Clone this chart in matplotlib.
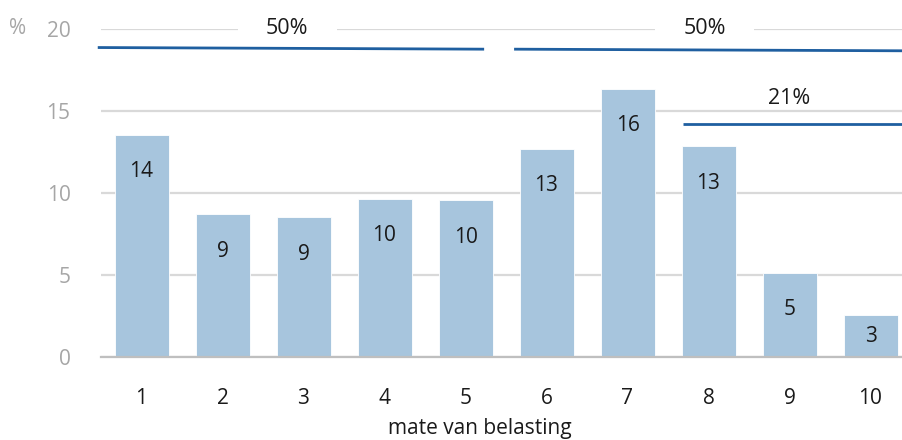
import matplotlib
matplotlib.use("Agg")
import matplotlib.pyplot as plt
from matplotlib.patches import Rectangle
import numpy as np

plt.rcParams['font.family'] = ['Open Sans', 'DejaVu Sans']

# Verdeling naar mate van belasting (%)
categories = ['1', '2', '3', '4', '5', '6', '7', '8', '9', '10']
values = [13.55, 8.7, 8.52, 9.65, 9.55, 12.7, 16.35, 12.85, 5.15, 2.55]

# Groeperingen boven de staven
group_labels = ['50%', '50%', '21%']
group_start = [-0.54, 4.6, 6.68]
group_end = [4.23, 9.45, 9.45]
group_line_y = [18.82, 18.72, 14.2]
group_text_y = [20.05, 20.0, 15.75]
group_text_x = [1.8, 6.95, 8.0]

bar_color = '#A7C5DD'
line_color = '#1F5FA0'
grid_color = '#D9D9D9'
tick_grey = '#A6A6A6'

fig = plt.figure(figsize=(9.02, 4.4), dpi=100)
ax = fig.add_axes([101 / 902, 83 / 440, 810 / 902, 328 / 440])

x = np.arange(len(categories))
ax.bar(x, values, width=54 / 81, color=bar_color, edgecolor='white', linewidth=0.6, zorder=2)

ax.set_xlim(-0.5, len(categories) - 0.5)
ax.set_ylim(0, 20)
ax.set_yticks([0, 5, 10, 15, 20])
ax.yaxis.grid(True, color=grid_color, linewidth=1.6, zorder=0)
ax.set_axisbelow(True)
for side in ['top', 'right', 'left']:
    ax.spines[side].set_visible(False)
ax.spines['bottom'].set_color('#BFBFBF')
ax.spines['bottom'].set_linewidth(1.6)
ax.spines['bottom'].set_zorder(3)

ax.set_xticks(x)
ax.set_xticklabels(categories)
ax.tick_params(axis='x', length=0, pad=22, labelsize=15, labelcolor='#1a1a1a')
ax.tick_params(axis='y', length=0, pad=22, labelsize=15, labelcolor=tick_grey)

# Waarden in de staven
unit_px = 328 / 20
offset = 37 / unit_px
for xi, v in zip(x, values):
    y = max(v - offset, v / 2)
    ax.text(xi, y, f'{round(v):d}', ha='center', va='center', fontsize=15,
            color='#1a1a1a', zorder=4)

# Groeperingslijnen met percentages
for lab, x0, x1, ly, ty, tx in zip(group_labels, group_start, group_end,
                                   group_line_y, group_text_y, group_text_x):
    tilt = 0.05 if lab == '50%' else 0.0
    ax.plot([x0, x1], [ly + tilt, ly - tilt],
            color=line_color, linewidth=2, solid_capstyle='butt',
            clip_on=False, zorder=5)
    if lab == '50%':
        ax.add_patch(Rectangle((tx - 0.61, 19.6), 1.22, 0.8, facecolor='white',
                               edgecolor='none', clip_on=False, zorder=5))
    ax.text(tx, ty, lab, ha='center', va='center', fontsize=15.5, color='#1a1a1a',
            zorder=6, clip_on=False)

fig.text(18 / 902, 1 - 28 / 440, '%', ha='center', va='center', fontsize=15, color=tick_grey)
fig.text(480 / 902, 1 - 428 / 440, 'mate van belasting', ha='center', va='center',
         fontsize=15, color='#1a1a1a')

fig.savefig('out.png', dpi=100)
